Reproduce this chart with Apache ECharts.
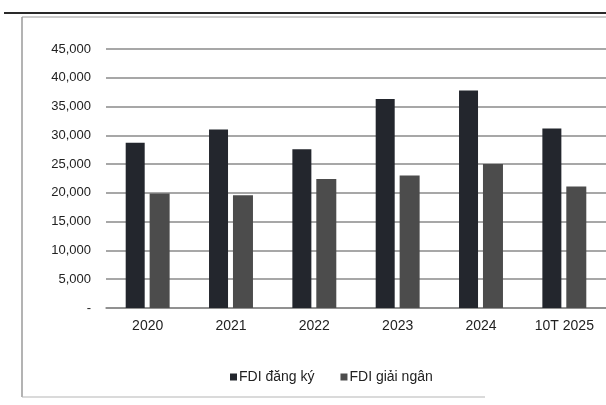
<!DOCTYPE html>
<html>
<head>
<meta charset="utf-8">
<script src="https://cdn.jsdelivr.net/npm/echarts@6/dist/echarts.min.js"></script>
<style>
  html, body { margin: 0; padding: 0; background: #ffffff; }
  #chart { width: 606px; height: 405px; }
</style>
</head>
<body>
<div id="chart"></div>
<script>
// Vốn FDI đăng ký và giải ngân theo năm (triệu USD)
const categories = ['2020', '2021', '2022', '2023', '2024', '10T 2025'];
const fdiRegistered = [28700, 31000, 27600, 36300, 37800, 31200];
const fdiDisbursed = [19900, 19600, 22400, 23000, 25000, 21100];
const seriesNames = ['FDI đăng ký', 'FDI giải ngân'];

const textColor = '#222222';
const fontFamily = '"Liberation Sans", Arial, sans-serif';

const chart = echarts.init(document.getElementById('chart'), null, { renderer: 'canvas' });

chart.setOption({
  backgroundColor: '#ffffff',
  animation: false,
  textStyle: { fontFamily: fontFamily, color: textColor },
  grid: { left: 106, top: 49, width: 505, height: 259, containLabel: false },
  legend: {
    data: seriesNames,
    left: 225,
    top: 365,
    itemWidth: 7,
    itemHeight: 7,
    itemGap: 26,
    icon: 'rect',
    textStyle: { fontSize: 14, color: textColor, fontFamily: fontFamily, padding: [0, 0, 0, -3] }
  },
  xAxis: {
    type: 'category',
    data: categories,
    axisLine: { show: true, lineStyle: { color: '#8a8a8a', width: 1.5 } },
    axisTick: { show: false },
    axisLabel: { fontSize: 14, color: textColor, margin: 11, fontFamily: fontFamily }
  },
  yAxis: {
    type: 'value',
    min: 0,
    max: 45000,
    interval: 5000,
    axisLine: { show: false },
    axisTick: { show: false },
    splitLine: { show: true, lineStyle: { color: '#8a8a8a', width: 1.5 } },
    axisLabel: {
      fontSize: 13,
      color: textColor,
      margin: 15,
      fontFamily: fontFamily,
      formatter: function (v) { return v === 0 ? '-' : v.toLocaleString('en-US'); }
    }
  },
  series: [
    {
      name: seriesNames[0],
      type: 'bar',
      data: fdiRegistered,
      barWidth: 19,
      barGap: '26%',
      itemStyle: { color: '#23262d' }
    },
    {
      name: seriesNames[1],
      type: 'bar',
      data: fdiDisbursed,
      barWidth: 20,
      itemStyle: { color: '#4c4c4c' }
    }
  ],
  graphic: [
    // frame: heavy rule on top, thin box around the chart
    { type: 'line', shape: { x1: 4, y1: 13, x2: 606, y2: 13 }, style: { stroke: '#2a2a2a', lineWidth: 2 } },
    { type: 'line', shape: { x1: 22, y1: 17, x2: 606, y2: 17 }, style: { stroke: '#9a9a9a', lineWidth: 1 } },
    { type: 'line', shape: { x1: 22, y1: 17, x2: 22, y2: 397 }, style: { stroke: '#9a9a9a', lineWidth: 1.5 } },
    { type: 'line', shape: { x1: 22, y1: 397, x2: 485, y2: 397 }, style: { stroke: '#b5b5b5', lineWidth: 1 } }
  ]
});
</script>
</body>
</html>
